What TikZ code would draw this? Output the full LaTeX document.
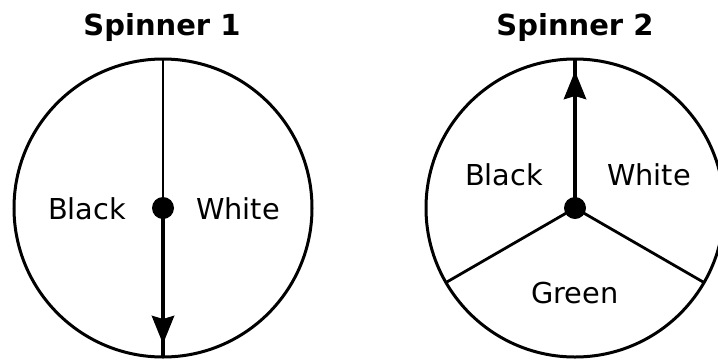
\documentclass[tikz,border=0pt]{standalone}
\usepackage{fontspec}
\setmainfont{DejaVu Sans}
\usetikzlibrary{arrows.meta}

\begin{document}
\begin{tikzpicture}[x=0.5pt, y=-0.5pt, font=\fontsize{14.4}{17}\selectfont,
  rim/.style={draw=black, line width=1.5pt},
  hub/.style={circle, fill=black, inner sep=0pt, minimum size=11pt},
  hairline/.style={line width=1pt},
  spoke/.style={line width=1.4pt},
  pointer/.style={line width=2.2pt},
  tipped/.style={-{Stealth[length=14pt, width=11pt, inset=1.5pt]}, line width=2.2pt},
  lbl/.style={anchor=base, inner sep=0pt},
  ttl/.style={anchor=base, inner sep=0pt, font=\fontsize{14.5}{17}\selectfont\bfseries}]

\useasboundingbox (0,0) rectangle (718,360);
\clip (0,0) rectangle (718,360);

% ---------------- Spinner 1: two halves, pointer down
\coordinate (c1) at (163,208);
\coordinate (top1) at (163,58);
\coordinate (bot1) at (163,357);
\coordinate (tip1) at (163,344);
\node[ttl] (title1) at (162,35) {Spinner 1};
\draw[rim] (c1) circle[radius=74.5pt];
\draw[hairline] (c1) -- (top1);
\draw[pointer] (c1) -- (bot1);
\draw[tipped] (c1) -- (tip1);
\node[hub] (hub1) at (c1) {};
\node[lbl] (black1) at (87,219) {Black};
\node[lbl] (white1) at (238,219) {White};

% ---------------- Spinner 2: three sectors, pointer up
\coordinate (c2) at (575,208);
\coordinate (top2) at (575,58);
\coordinate (tip2) at (575,71);
\coordinate (left2) at (446,282.5);
\coordinate (right2) at (704,282.5);
\node[ttl] (title2) at (575,35) {Spinner 2};
\draw[rim] (c2) circle[radius=74.5pt];
\draw[spoke] (c2) -- (left2);
\draw[spoke] (c2) -- (right2);
\draw[pointer] (c2) -- (top2);
\draw[tipped] (c2) -- (tip2);
\node[hub] (hub2) at (c2) {};
\node[lbl] (black2) at (504,185) {Black};
\node[lbl] (white2) at (649,185) {White};
\node[lbl] (green2) at (575,303) {Green};
\end{tikzpicture}
\end{document}
